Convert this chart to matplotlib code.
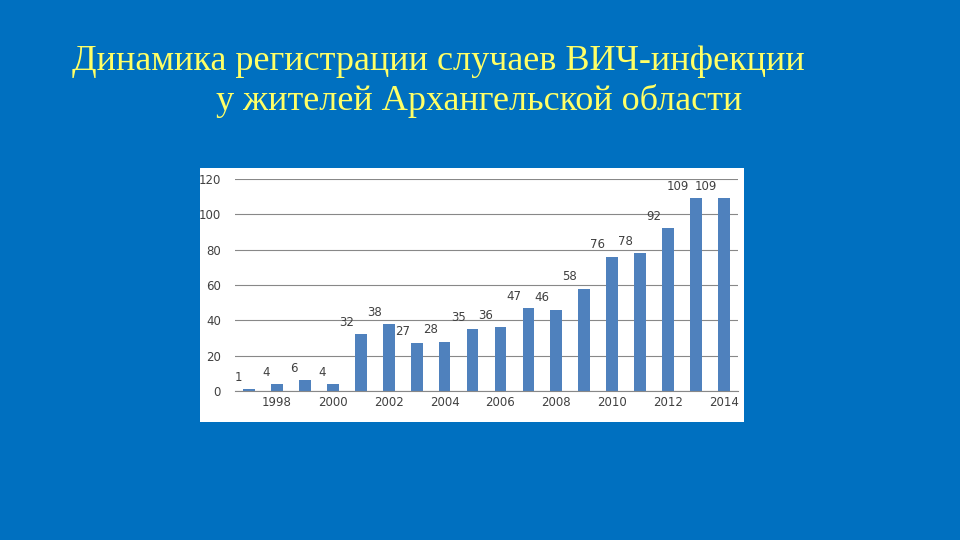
import matplotlib.pyplot as plt

years = list(range(1997, 2015))
cases = [1, 4, 6, 4, 32, 38, 27, 28, 35, 36, 47, 46, 58, 76, 78, 92, 109, 109]
tick_years = list(range(1998, 2015, 2))
title_1 = "Динамика регистрации случаев ВИЧ-инфекции"
title_2 = "у жителей Архангельской области"

fig = plt.figure(figsize=(9.6, 5.4), dpi=100)
fig.patch.set_facecolor('#0070C0')

# white chart panel
panel = fig.add_axes([200 / 960, 118 / 540, 544 / 960, 254 / 540])
panel.set_facecolor('white')
panel.set_axis_off()
panel.add_patch(plt.Rectangle((0, 0), 1, 1, color='white', transform=panel.transAxes))

fig.text(72 / 960, 1 - 62 / 540, title_1, color='#FFFF66', fontsize=26,
         family='Liberation Serif', va='center', ha='left')
fig.text(216 / 960, 1 - 101 / 540, title_2, color='#FFFF66', fontsize=26,
         family='Liberation Serif', va='center', ha='left')

ax = fig.add_axes([235 / 960, 1 - 391 / 540, 503 / 960, 212 / 540])
ax.set_facecolor('none')
ax.bar(years, cases, width=0.42, color='#4F81BD', zorder=2)
for y, v in zip(years, cases):
    ax.text(y - 0.25, v + 3, str(v), ha='right', va='bottom', fontsize=8.5, color='#404040')

ax.set_xlim(1996.5, 2014.5)
ax.set_ylim(0, 120)
ax.set_yticks(range(0, 121, 20))
ax.set_xticks(tick_years)
ax.yaxis.grid(True, color='#888888', linewidth=0.8)
ax.tick_params(length=0, labelsize=8.5, labelcolor='#404040')
ax.tick_params(axis='y', pad=10)
for s in ax.spines.values():
    s.set_visible(False)
ax.spines['bottom'].set_visible(True)
ax.spines['bottom'].set_color('#888888')

fig.savefig('out.png', dpi=100, facecolor=fig.get_facecolor())
